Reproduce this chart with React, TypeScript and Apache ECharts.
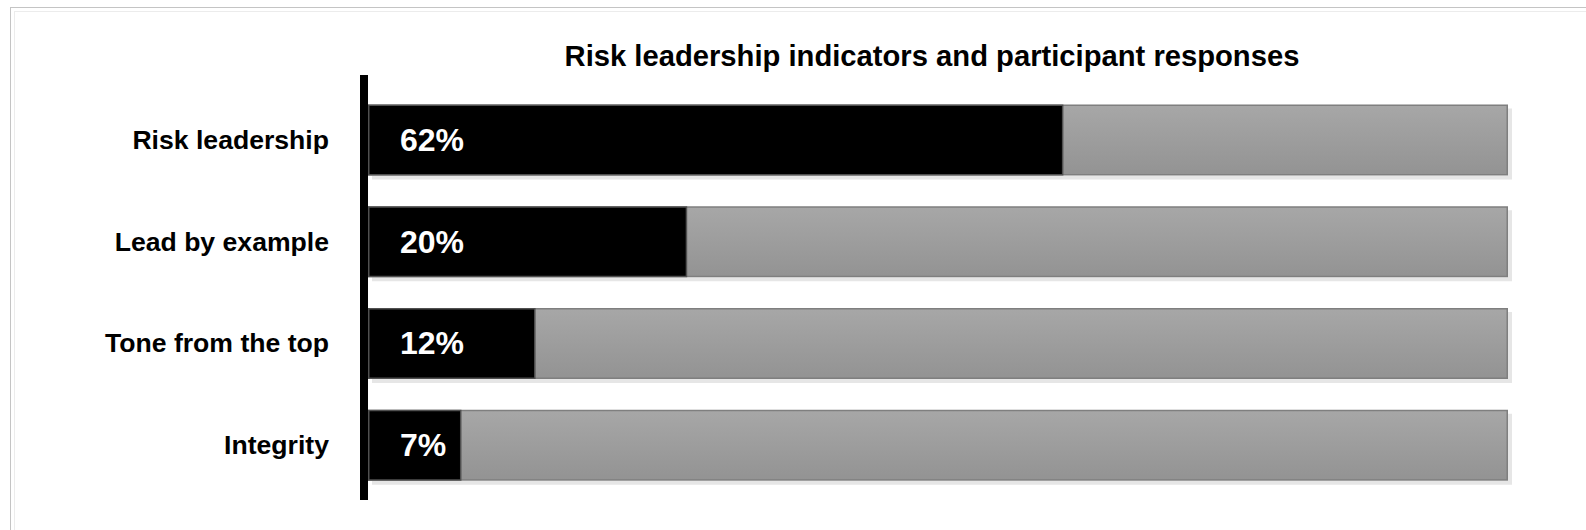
import React, { useEffect, useRef } from 'react';
import * as echarts from 'echarts';

const categories = ['Risk leadership', 'Lead by example', 'Tone from the top', 'Integrity'];
const barValues = [61, 28, 14.7, 8.2];
const totalValues = [100, 100, 100, 100];
const valueLabels = ['62%', '20%', '12%', '7%'];
const titleText = 'Risk leadership indicators and participant responses';

const FONT = "'Liberation Sans', Arial, Helvetica, sans-serif";

export default function App() {
  const ref = useRef<HTMLDivElement>(null);
  useEffect(() => {
    const chart = echarts.init(ref.current as HTMLDivElement, null, { renderer: 'svg' });
    chart.setOption({
      animation: false,
      textStyle: { fontFamily: FONT },
      title: {
        text: titleText,
        left: 932,
        top: 41,
        padding: 0,
        textAlign: 'center',
        textStyle: { fontFamily: FONT, fontSize: 29.2, fontWeight: 'bold', color: '#000' },
      },
      grid: { left: 368, right: 78, top: 89, height: 407 },
      xAxis: { type: 'value', min: 0, max: 100, show: false },
      yAxis: {
        type: 'category',
        data: categories,
        inverse: true,
        axisLine: { show: false },
        axisTick: { show: false },
        splitLine: { show: false },
        axisLabel: { margin: 39, fontSize: 26.6, fontWeight: 'bold', color: '#000', fontFamily: FONT },
      },
      series: [
        {
          type: 'bar',
          data: totalValues,
          barWidth: 71,
          barGap: '-100%',
          silent: true,
          itemStyle: {
            color: new echarts.graphic.LinearGradient(0, 0, 0, 1, [
              { offset: 0, color: '#a7a7a7' },
              { offset: 1, color: '#939393' },
            ]),
            borderColor: '#7f7f7f',
            borderWidth: 1.5,
            shadowColor: '#e6e6e6',
            shadowBlur: 0,
            shadowOffsetX: 4,
            shadowOffsetY: 4,
          },
        },
        {
          type: 'bar',
          data: barValues,
          barWidth: 71,
          itemStyle: { color: '#000', borderColor: '#505050', borderWidth: 1.5 },
          label: {
            show: true,
            position: 'insideLeft',
            distance: 32,
            formatter: (p: any) => valueLabels[p.dataIndex],
            color: '#fff',
            fontSize: 32,
            fontWeight: 'bold',
            fontFamily: FONT,
          },
        },
      ],
      graphic: [
        { type: 'rect', shape: { x: 360, y: 75, width: 8, height: 425 }, style: { fill: '#000' }, z: 100 },
      ],
    });
    return () => chart.dispose();
  }, []);

  return (
    <div style={{ position: 'fixed', left: 0, top: 0, width: 1586, height: 530, overflow: 'hidden', background: '#fff' }}>
      <div style={{ position: 'absolute', left: 10, top: 7, width: 1600, height: 560, border: '1px solid #c4c4c4' }} />
      <div style={{ position: 'absolute', left: 14, top: 11, width: 1600, height: 560, border: '1px solid #ececec' }} />
      <div ref={ref} style={{ position: 'absolute', left: 0, top: 0, width: 1586, height: 530 }} />
    </div>
  );
}
